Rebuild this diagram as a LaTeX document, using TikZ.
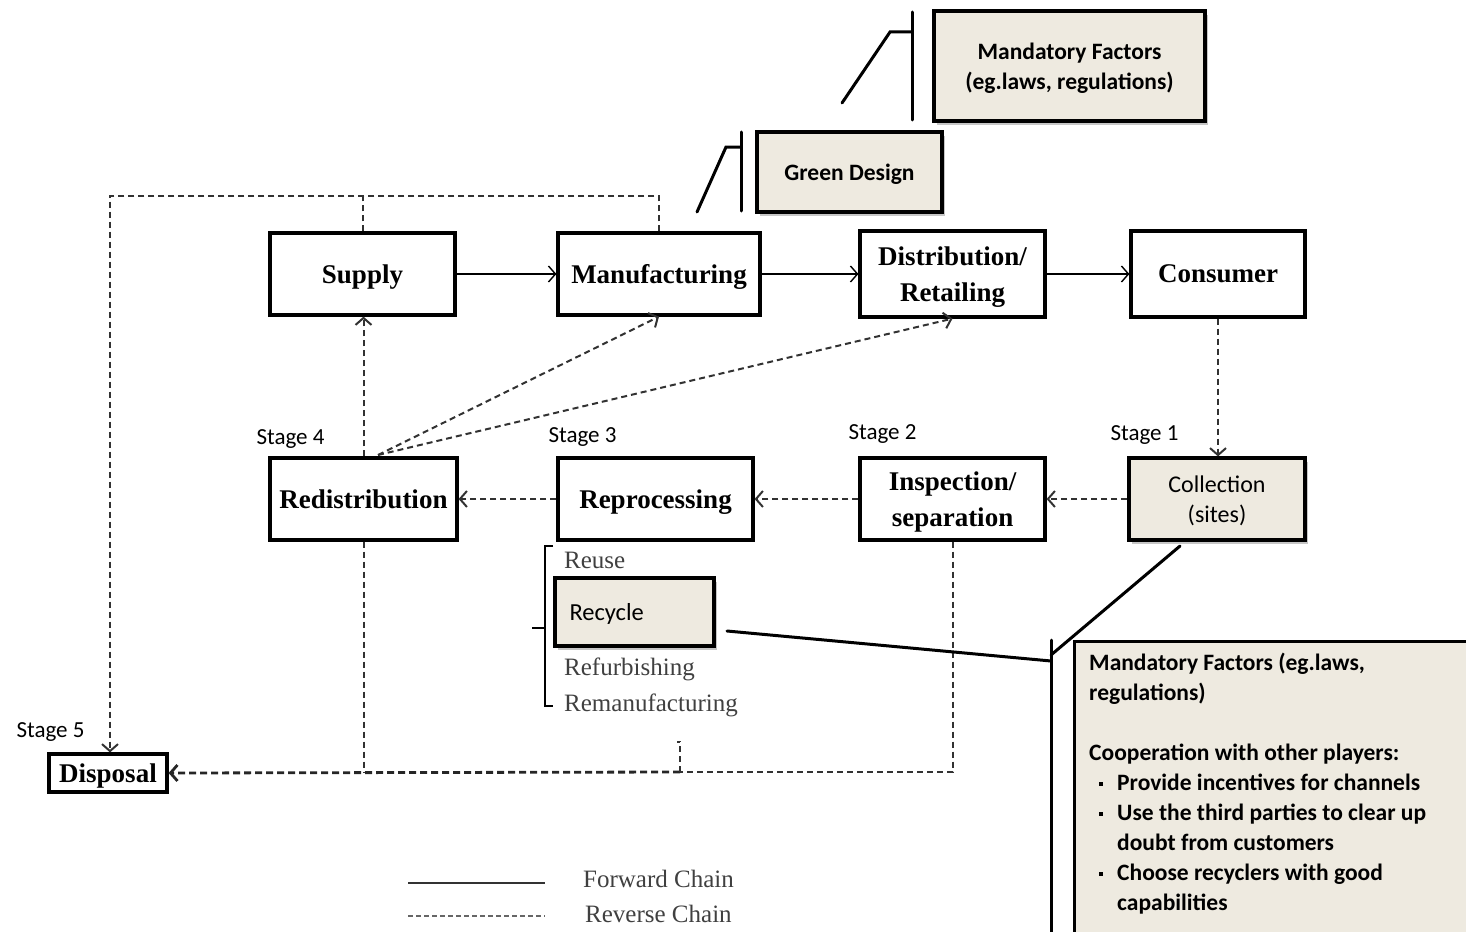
\documentclass[tikz,border=0pt]{standalone}
\usepackage{fontspec}
\setmainfont{Liberation Serif}
\newfontfamily\calib{Carlito}
\usetikzlibrary{arrows.meta,shadows}
\definecolor{tan}{RGB}{238,234,224}
\definecolor{dashgray}{RGB}{50,50,50}
\tikzset{
  mainbox/.style={draw, line width=3.2pt, fill=white, align=center,
    font=\fontsize{27}{36}\selectfont\bfseries, inner sep=0pt, text depth=-6pt},
  tanbox/.style={draw, line width=3.2pt, fill=tan, align=center,
    drop shadow={shadow xshift=3pt, shadow yshift=-4pt, opacity=0.45},
    inner sep=0pt},
  tantext/.style={font=\calib\fontsize{23.5}{30}\selectfont\bfseries, text depth=-4pt},
  stagelbl/.style={font=\calib\fontsize{23}{24}\selectfont, anchor=base west},
  subitem/.style={font=\fontsize{25}{26}\selectfont, text=black!75, anchor=base west, inner sep=0pt},
  fwd/.style={line width=1.4pt, -{Straight Barb[length=7pt,width=16pt]}},
  rev/.style={line width=2pt, dashgray, dash pattern=on 6pt off 4pt,
    -{Straight Barb[length=7pt,width=16pt]}},
  revline/.style={line width=2pt, dashgray, dash pattern=on 6pt off 4pt},
  callout/.style={line width=3pt, line cap=round}
}
\begin{document}
\begin{tikzpicture}[x=1pt,y=-1pt]
\useasboundingbox (0,0) rectangle (1466,931);
\clip (0,0) rectangle (1466,931);

% forward chain
\node[mainbox, minimum width=185, minimum height=82] (sup) at (362.5,274) {Supply};
\node[mainbox, minimum width=202, minimum height=82] (man) at (659,274) {Manufacturing};
\node[mainbox, minimum width=185, minimum height=86] (dst) at (952.5,274) {Distribution/\\Retailing};
\node[mainbox, minimum width=174, minimum height=86] (con) at (1218,274) {Consumer};

% reverse chain
\node[mainbox, minimum width=187, minimum height=82] (red) at (363.5,499) {Redistribution};
\node[mainbox, minimum width=195, minimum height=82] (rep) at (655.5,499) {Reprocessing};
\node[mainbox, minimum width=185, minimum height=82] (ins) at (952.5,499) {Inspection/\\separation};
\node[tanbox, font=\calib\fontsize{24}{30}\selectfont, text depth=-3pt, minimum width=176, minimum height=82] (col) at (1217,499) {Collection\\(sites)};
\node[mainbox, minimum width=118, minimum height=38, text depth=-2pt, font=\fontsize{27}{30}\selectfont\bfseries] (dis) at (108,773) {Disposal};

% factor boxes
\node[tanbox, tantext, minimum width=185, minimum height=80] (grn) at (849.5,172) {Green Design};
\node[tanbox, tantext, minimum width=271, minimum height=110] (mft) at (1069.5,66) {Mandatory Factors\\(eg.laws, regulations)};
\node[tanbox, font=\calib\fontsize{24.5}{26}\selectfont, text depth=0pt, minimum width=159, minimum height=68, text width=130, align=left] (rcy) at (634.5,612) {Recycle};
\node[tanbox, minimum width=430, minimum height=320, anchor=north west] (big) at (1073,640) {};
\node[font=\calib\fontsize{23.5}{30}\selectfont\bfseries, anchor=north west, align=left, inner sep=0pt] (bigtxt) at (1089,653) {%
Mandatory Factors (eg.laws,\\
regulations)\\[30pt]
Cooperation with other players:\\
\hspace*{10pt}\raisebox{5pt}{\rule{4pt}{4pt}}\hspace*{14pt}Provide incentives for channels\\
\hspace*{10pt}\raisebox{5pt}{\rule{4pt}{4pt}}\hspace*{14pt}Use the third parties to clear up\\
\hspace*{28pt}doubt from customers\\
\hspace*{10pt}\raisebox{5pt}{\rule{4pt}{4pt}}\hspace*{14pt}Choose recyclers with good\\
\hspace*{28pt}capabilities};

% stage labels
\node[stagelbl] (s4) at (253,444) {Stage 4};
\node[stagelbl] (s3) at (545,442) {Stage 3};
\node[stagelbl] (s2) at (845,439) {Stage 2};
\node[stagelbl] (s1) at (1107,440) {Stage 1};
\node[stagelbl] (s5) at (13,737) {Stage 5};

% reprocessing options
\node[subitem] (reuse) at (564,568) {Reuse};
\node[subitem] (refb) at (564,675) {Refurbishing};
\node[subitem] (reman) at (564,711) {Remanufacturing};
\draw[line width=2.4pt] (553,546) -- (545,546) -- (545,706) -- (553,706);
\draw[line width=2.4pt] (545,628) -- (532,628);

% forward arrows
\draw[fwd] (sup) -- (man);
\draw[fwd] (man) -- (dst);
\draw[fwd] (dst) -- (con);

% reverse arrows
\draw[rev] (con.south) -- (con.south |- col.north);
\draw[rev] (col) -- (ins);
\draw[rev] (ins) -- (rep);
\draw[rev] (rep) -- (red);
\draw[rev] (red.north) -- (red.north |- sup.south);
\coordinate (rdo) at (378,455);
\draw[rev] (rdo) -- (man.south);
\draw[rev] (rdo) -- (dst.south);

% loop to disposal over the top
\coordinate (lt) at (110,196);
\draw[revline] (sup.north) -- (sup.north |- lt);
\draw[rev] (man.north) |- (lt) -- (dis.north -| lt);

% loop to disposal along the bottom
\coordinate (bj) at (680,772);
\draw[revline] (red.south) -- (red.south |- dis.east);
\draw[revline] (ins.south) |- (bj);
\draw[line width=2.8pt, black!85, dash pattern=on 7pt off 4pt, -{Straight Barb[length=7pt,width=16pt]}] (bj) -- (dis.east);
\draw[revline, line width=1.5pt] (bj) -- (680,742) -- (677,742);

% callout lines
\coordinate (m1) at (842,103);
\coordinate (m2) at (890,32);
\coordinate (m3) at (912,32);
\draw[callout] (912,12) -- (912,120);
\draw[callout] (m1) -- (m2) -- (m3);

\coordinate (g1) at (697,212);
\coordinate (g2) at (726,147);
\coordinate (g3) at (741,147);
\draw[callout] (741,132) -- (741,211);
\draw[callout] (g1) -- (g2) -- (g3);

\coordinate (c1) at (1180,546);
\coordinate (c2) at (1051,655);
\coordinate (r1) at (727,631);
\coordinate (r2) at (1051,661);
\draw[callout] (1051,640) -- (1051,940);
\draw[callout] (c1) -- (c2);
\draw[callout] (r1) -- (r2);

% legend
\coordinate (l1) at (408,883);
\coordinate (l2) at (545,883);
\coordinate (l3) at (408,916);
\coordinate (l4) at (545,916);
\draw[line width=2pt, black!80] (l1) -- (l2);
\draw[line width=1.8pt, black!60, dash pattern=on 5pt off 3pt] (l3) -- (l4);
\node[subitem, font=\fontsize{25}{26}\selectfont] (fwdlbl) at (583,887) {Forward Chain};
\node[subitem, font=\fontsize{25}{26}\selectfont] (revlbl) at (585,922) {Reverse Chain};
\end{tikzpicture}
\end{document}
